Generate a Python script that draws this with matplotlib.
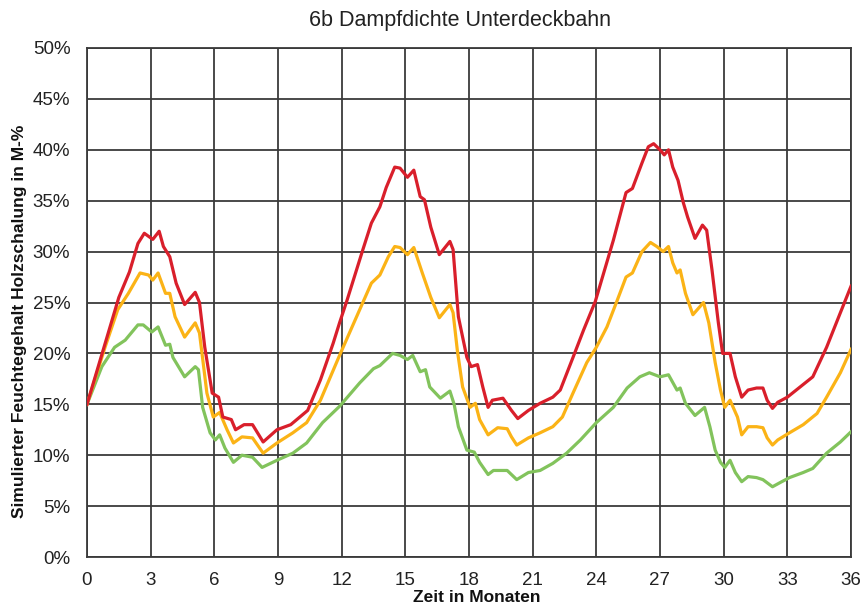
import matplotlib
matplotlib.use("Agg")
import matplotlib.pyplot as plt
from matplotlib.ticker import FuncFormatter

plt.rcParams['font.family'] = ['Liberation Sans', 'DejaVu Sans']

# Red series (months, %)
red_x = [0, 0.5, 1.0, 1.5, 2.0, 2.4, 2.7, 3.1, 3.4, 3.6, 3.9, 4.2, 4.6, 5.1, 5.3, 5.55, 5.9, 6.2, 6.4,
         6.8, 7.0, 7.4, 7.8, 8.3, 8.95, 9.6, 10.4, 11.0, 11.6, 11.9, 12.25, 13.0, 13.4, 13.8, 14.1,
         14.5, 14.75, 15.1, 15.4, 15.7, 15.9, 16.2, 16.6, 17.1, 17.25, 17.5, 17.9, 18.1, 18.4, 18.65,
         18.9, 19.1, 19.6, 20.0, 20.3, 20.8, 21.35, 21.95, 22.3, 22.9, 23.4, 23.95, 24.8, 25.4, 25.7,
         26.15, 26.45, 26.7, 27.0, 27.2, 27.4, 27.6, 27.85, 28.1, 28.3, 28.65, 29.0, 29.2, 29.45,
         29.75, 29.95, 30.3, 30.55, 30.85, 31.15, 31.55, 31.85, 32.05, 32.3, 32.55, 33.0, 33.6,
         34.2, 34.85, 35.5, 36.0]
red_y = [15.0, 18.5, 22.0, 25.5, 28.0, 30.8, 31.8, 31.2, 32.0, 30.5, 29.5, 26.9, 24.8, 26.0, 25.0, 20.6,
         16.1, 15.7, 13.75, 13.5, 12.5, 13.0, 13.0, 11.3, 12.5, 13.0, 14.4, 17.4, 21.0, 23.0, 25.2,
         30.2, 32.8, 34.4, 36.3, 38.3, 38.2, 37.3, 38.0, 35.4, 35.1, 32.4, 29.7, 31.0, 30.2, 23.6,
         19.6, 18.7, 18.9, 16.7, 14.7, 15.4, 15.6, 14.4, 13.6, 14.4, 15.1, 15.7, 16.4, 19.6, 22.3,
         25.1, 31.1, 35.8, 36.2, 38.7, 40.3, 40.6, 40.0, 39.5, 40.0, 38.3, 37.0, 34.8, 33.4, 31.3,
         32.6, 32.1, 28.2, 23.0, 20.0, 20.0, 17.7, 15.7, 16.4, 16.6, 16.6, 15.4, 14.6, 15.2, 15.7,
         16.7, 17.7, 20.6, 24.0, 26.6]

# Orange series
orange_x = [0, 0.85, 1.45, 1.95, 2.5, 2.9, 3.1, 3.35, 3.7, 3.9, 4.15, 4.6, 5.1, 5.3, 5.65, 5.95, 6.25,
            6.6, 6.9, 7.3, 7.8, 8.3, 8.95, 9.7, 10.35, 11.0, 11.9, 12.85, 13.4, 13.8, 14.2, 14.5,
            14.75, 15.1, 15.4, 15.8, 16.2, 16.6, 17.1, 17.25, 17.45, 17.7, 18.05, 18.3, 18.5, 18.9,
            19.35, 19.8, 20.0, 20.25, 20.8, 21.35, 21.95, 22.4, 22.9, 23.55, 24.0, 24.5, 25.0, 25.4,
            25.7, 26.15, 26.55, 26.85, 27.15, 27.4, 27.6, 27.8, 27.95, 28.2, 28.55, 29.05, 29.3,
            29.6, 29.85, 30.05, 30.3, 30.65, 30.85, 31.15, 31.55, 31.85, 32.05, 32.3, 32.55, 33.1,
            33.75, 34.4, 34.85, 35.5, 36.0]
orange_y = [15.0, 20.6, 24.3, 25.9, 27.9, 27.7, 27.2, 27.9, 25.9, 25.9, 23.6, 21.6, 23.0, 22.0, 16.1,
            13.75, 14.2, 12.5, 11.2, 11.8, 11.7, 10.2, 11.2, 12.2, 13.2, 15.4, 19.8, 24.3, 26.9,
            27.7, 29.5, 30.5, 30.4, 29.7, 30.4, 27.9, 25.5, 23.5, 24.8, 24.0, 20.3, 16.7, 14.7, 15.1,
            13.5, 12.0, 12.7, 12.6, 11.8, 11.0, 11.7, 12.2, 12.8, 13.75, 16.1, 19.1, 20.6, 22.6,
            25.3, 27.5, 27.9, 30.0, 30.9, 30.5, 30.0, 30.5, 28.9, 27.9, 28.2, 25.9, 23.8, 25.0, 23.0,
            19.1, 16.4, 14.7, 15.4, 13.75, 12.0, 12.8, 12.8, 12.7, 11.7, 11.0, 11.5, 12.2, 13.0,
            14.1, 15.7, 18.1, 20.4]

# Green series
green_x = [0, 0.7, 1.3, 1.8, 2.4, 2.65, 3.05, 3.35, 3.7, 3.9, 4.05, 4.6, 5.1, 5.25, 5.45, 5.8, 6.05,
           6.25, 6.5, 6.9, 7.3, 7.8, 8.25, 8.95, 9.7, 10.35, 11.1, 11.9, 12.85, 13.5, 13.8, 14.4,
           14.75, 15.1, 15.35, 15.7, 15.95, 16.15, 16.65, 17.1, 17.3, 17.5, 17.9, 18.25, 18.5, 18.9,
           19.15, 19.8, 20.25, 20.8, 21.35, 21.95, 22.6, 23.25, 24.0, 24.8, 25.45, 26.05, 26.5,
           27.0, 27.4, 27.8, 27.95, 28.2, 28.65, 29.1, 29.35, 29.6, 29.85, 30.05, 30.3, 30.55,
           30.85, 31.15, 31.55, 31.85, 32.3, 32.65, 33.1, 33.75, 34.2, 34.85, 35.5, 36.0]
green_y = [15.0, 18.7, 20.6, 21.3, 22.8, 22.8, 22.1, 22.6, 20.8, 20.9, 19.6, 17.7, 18.7, 18.4, 14.7,
           12.2, 11.5, 12.0, 10.7, 9.3, 10.0, 9.8, 8.8, 9.5, 10.2, 11.2, 13.2, 14.8, 17.1, 18.5,
           18.8, 20.0, 19.8, 19.4, 19.8, 18.2, 18.4, 16.7, 15.6, 16.3, 15.0, 12.8, 10.5, 10.3, 9.3,
           8.1, 8.5, 8.5, 7.6, 8.3, 8.5, 9.2, 10.2, 11.5, 13.2, 14.7, 16.6, 17.7, 18.1, 17.7, 17.9,
           16.4, 16.6, 15.1, 13.9, 14.7, 12.8, 10.5, 9.3, 8.8, 9.5, 8.3, 7.4, 7.9, 7.8, 7.6, 6.9,
           7.3, 7.8, 8.3, 8.7, 10.2, 11.3, 12.3]

x_ticks = list(range(0, 37, 3))
y_ticks = list(range(0, 51, 5))

title = "6b Dampfdichte Unterdeckbahn"
xlabel = "Zeit in Monaten"
ylabel = "Simulierter Feuchtegehalt Holzschalung in M-%"

fig = plt.figure(figsize=(8.64, 6.10), dpi=100)
ax = fig.add_axes([87/864, 53/610, (851-87)/864, (557-48)/610])

grid_col = '#3a3a3a'
ax.plot(green_x, green_y, color='#82c35c', lw=2.3, solid_joinstyle='round', zorder=3)
ax.plot(orange_x, orange_y, color='#fbb316', lw=2.3, solid_joinstyle='round', zorder=4)
ax.plot(red_x, red_y, color='#d91f2b', lw=2.3, solid_joinstyle='round', zorder=5)

ax.set_xlim(0, 36)
ax.set_ylim(0, 50)
ax.set_xticks(x_ticks)
ax.set_yticks(y_ticks)
ax.yaxis.set_major_formatter(FuncFormatter(lambda v, p: f"{int(v)}%"))
ax.grid(True, color=grid_col, lw=1.3)
ax.set_axisbelow(True)
for s in ax.spines.values():
    s.set_color(grid_col)
    s.set_linewidth(1.3)
ax.tick_params(axis='y', length=0, labelsize=13.5, colors='#222222', pad=12)
ax.tick_params(axis='x', length=0, labelsize=13.5, colors='#222222', pad=11)

fig.text(477/864, 1 - 598/610, xlabel, ha='center', va='center',
         fontsize=12.5, fontweight='bold', color='#111111')
fig.text(20/864, 1 - 321/610, ylabel, rotation=90, ha='center', va='center',
         fontsize=12.5, fontweight='bold', color='#111111')
fig.text(460/864, 0.966, title, ha='center', va='center', fontsize=15.5, color='#222222')

fig.savefig("out.png", dpi=100, facecolor='white')
